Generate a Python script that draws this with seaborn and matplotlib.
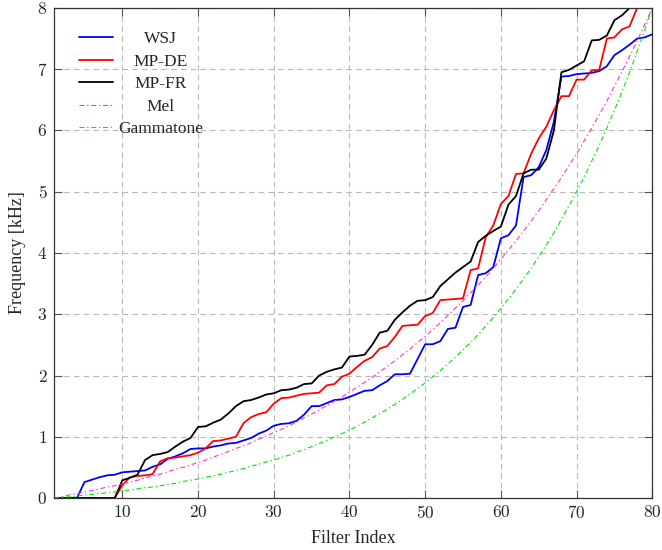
import matplotlib
matplotlib.use("Agg")
import matplotlib.pyplot as plt
import pandas as pd
import seaborn as sns

# ---------------- data ----------------
filter_index = list(range(1, 81))

wsj = [0.00, 0.00, 0.00, 0.00, 0.26, 0.30, 0.34, 0.37, 0.38, 0.42,
       0.43, 0.44, 0.45, 0.51, 0.55, 0.64, 0.68, 0.73, 0.80, 0.81,
       0.81, 0.84, 0.86, 0.89, 0.90, 0.94, 0.98, 1.05, 1.10, 1.18,
       1.21, 1.22, 1.26, 1.36, 1.50, 1.50, 1.55, 1.60, 1.61, 1.65,
       1.70, 1.75, 1.76, 1.84, 1.91, 2.02, 2.02, 2.03, 2.27, 2.51,
       2.51, 2.56, 2.76, 2.78, 3.12, 3.15, 3.64, 3.67, 3.77, 4.24,
       4.29, 4.45, 5.24, 5.27, 5.40, 5.68, 6.14, 6.88, 6.89, 6.92,
       6.93, 6.94, 6.97, 7.05, 7.23, 7.31, 7.40, 7.50, 7.52, 7.57]

mp_de = [0.00, 0.00, 0.00, 0.00, 0.00, 0.00, 0.00, 0.00, 0.00, 0.21,
         0.34, 0.36, 0.37, 0.39, 0.60, 0.65, 0.66, 0.68, 0.70, 0.74,
         0.81, 0.93, 0.94, 0.97, 1.00, 1.22, 1.32, 1.37, 1.40, 1.54,
         1.63, 1.64, 1.67, 1.70, 1.71, 1.72, 1.84, 1.86, 1.98, 2.03,
         2.14, 2.24, 2.30, 2.44, 2.48, 2.63, 2.81, 2.82, 2.83, 2.97,
         3.02, 3.23, 3.24, 3.25, 3.26, 3.72, 3.75, 4.26, 4.45, 4.80,
         4.93, 5.29, 5.30, 5.62, 5.87, 6.06, 6.33, 6.56, 6.56, 6.83,
         6.83, 6.98, 6.99, 7.50, 7.52, 7.65, 7.70, 8.00, 8.00, 8.00]

mp_fr = [0.00, 0.00, 0.00, 0.00, 0.00, 0.00, 0.00, 0.00, 0.00, 0.29,
         0.33, 0.38, 0.62, 0.70, 0.72, 0.75, 0.84, 0.92, 0.98, 1.16,
         1.17, 1.23, 1.28, 1.38, 1.50, 1.58, 1.60, 1.64, 1.69, 1.71,
         1.76, 1.77, 1.80, 1.86, 1.87, 2.00, 2.06, 2.10, 2.13, 2.31,
         2.32, 2.34, 2.50, 2.70, 2.73, 2.91, 3.03, 3.14, 3.22, 3.23,
         3.28, 3.46, 3.57, 3.68, 3.77, 3.86, 4.18, 4.28, 4.36, 4.43,
         4.79, 4.93, 5.30, 5.36, 5.36, 5.54, 6.00, 6.95, 6.99, 7.06,
         7.13, 7.47, 7.48, 7.55, 7.80, 7.88, 8.00, 8.00, 8.00, 8.00]

mel = [0.00, 0.02, 0.05, 0.07, 0.10, 0.12, 0.15, 0.18, 0.20, 0.23,
       0.26, 0.29, 0.33, 0.36, 0.39, 0.43, 0.47, 0.50, 0.54, 0.58,
       0.62, 0.67, 0.71, 0.76, 0.81, 0.85, 0.90, 0.96, 1.01, 1.07,
       1.12, 1.18, 1.24, 1.31, 1.37, 1.44, 1.51, 1.58, 1.65, 1.73,
       1.81, 1.89, 1.97, 2.06, 2.15, 2.24, 2.34, 2.43, 2.54, 2.64,
       2.75, 2.86, 2.98, 3.10, 3.22, 3.35, 3.48, 3.61, 3.75, 3.90,
       4.05, 4.20, 4.36, 4.52, 4.69, 4.87, 5.05, 5.23, 5.43, 5.62,
       5.83, 6.04, 6.26, 6.48, 6.72, 6.96, 7.21, 7.46, 7.73, 8.00]

gammatone = [0.00, 0.01, 0.02, 0.03, 0.05, 0.06, 0.07, 0.09, 0.10, 0.12,
             0.13, 0.15, 0.17, 0.18, 0.20, 0.22, 0.24, 0.27, 0.29, 0.31,
             0.34, 0.36, 0.39, 0.42, 0.45, 0.48, 0.52, 0.55, 0.59, 0.62,
             0.66, 0.70, 0.75, 0.79, 0.84, 0.89, 0.94, 1.00, 1.05, 1.11,
             1.17, 1.24, 1.31, 1.38, 1.45, 1.53, 1.61, 1.70, 1.79, 1.88,
             1.98, 2.08, 2.19, 2.30, 2.42, 2.54, 2.67, 2.81, 2.95, 3.09,
             3.25, 3.41, 3.58, 3.75, 3.94, 4.13, 4.33, 4.55, 4.77, 5.00,
             5.24, 5.50, 5.76, 6.04, 6.33, 6.63, 6.95, 7.29, 7.64, 8.00]

series_names = ["WSJ", "MP-DE", "MP-FR", "Mel", "Gammatone"]
x_ticks = [10, 20, 30, 40, 50, 60, 70, 80]
y_ticks = [0, 1, 2, 3, 4, 5, 6, 7, 8]
x_label = "Filter Index"
y_label = "Frequency [kHz]"

# ---------------- styling ----------------
sns.set_theme(style="white")
plt.rcParams["font.family"] = ["Liberation Serif", "DejaVu Serif"]
plt.rcParams["mathtext.fontset"] = "cm"
plt.rcParams["lines.scale_dashes"] = False

colors = {"WSJ": "#0000ff", "MP-DE": "#ff0000", "MP-FR": "#000000",
          "Mel": "#ff33cc", "Gammatone": "#00e600"}
dashdot = (0, (3.5, 2.0, 1.0, 2.0))
styles = {"WSJ": "-", "MP-DE": "-", "MP-FR": "-",
          "Mel": dashdot, "Gammatone": dashdot}
widths = {"WSJ": 1.3, "MP-DE": 1.3, "MP-FR": 1.3, "Mel": 0.8, "Gammatone": 0.8}

df = pd.DataFrame({"Filter Index": filter_index, "WSJ": wsj, "MP-DE": mp_de,
                   "MP-FR": mp_fr, "Mel": mel, "Gammatone": gammatone})

fig = plt.figure(figsize=(6.62, 5.5), dpi=100)
ax = fig.add_axes([0.0819, 0.0945, 0.9034, 0.891])

for name in series_names:
    sns.lineplot(data=df, x="Filter Index", y=name, ax=ax, color=colors[name],
                 linestyle=styles[name], linewidth=widths[name], label=name,
                 legend=False)

ax.set_xlim(1, 80)
ax.set_ylim(0, 8)
ax.set_xticks(x_ticks, labels=[f"${t}$" for t in x_ticks])
ax.set_yticks(y_ticks, labels=[f"${t}$" for t in y_ticks])
ax.tick_params(axis="both", which="major", direction="in", length=5.5, width=0.8,
               color="#555555", labelsize=12.5, pad=5,
               top=True, right=True, bottom=True, left=True)
ax.grid(True, color="#b8b8b8", linestyle=(0, (4, 3)), linewidth=0.8)
for sp in ax.spines.values():
    sp.set_color("#333333")
    sp.set_linewidth(0.9)

ax.set_xlabel(x_label, fontsize=13, labelpad=6)
ax.set_ylabel(y_label, fontsize=13, labelpad=8)

leg = ax.legend(loc="upper left", bbox_to_anchor=(0.0415, 0.953), frameon=False,
                handlelength=1.95, handletextpad=0.3, labelspacing=0.37,
                borderpad=0, borderaxespad=0, fontsize=12.5)

# centre the legend labels in a common column (as in the reference)
fig.canvas.draw()
renderer = fig.canvas.get_renderer()
texts = leg.get_texts()
tw = [t.get_window_extent(renderer).width for t in texts]
wmax = max(tw)
rows = leg._legend_handle_box.get_children()[0].get_children()
for row, w in zip(rows, tw):
    row.sep = row.sep + (wmax - w) / 2 * 72.0 / fig.dpi

fig.savefig("out.png", dpi=100)
